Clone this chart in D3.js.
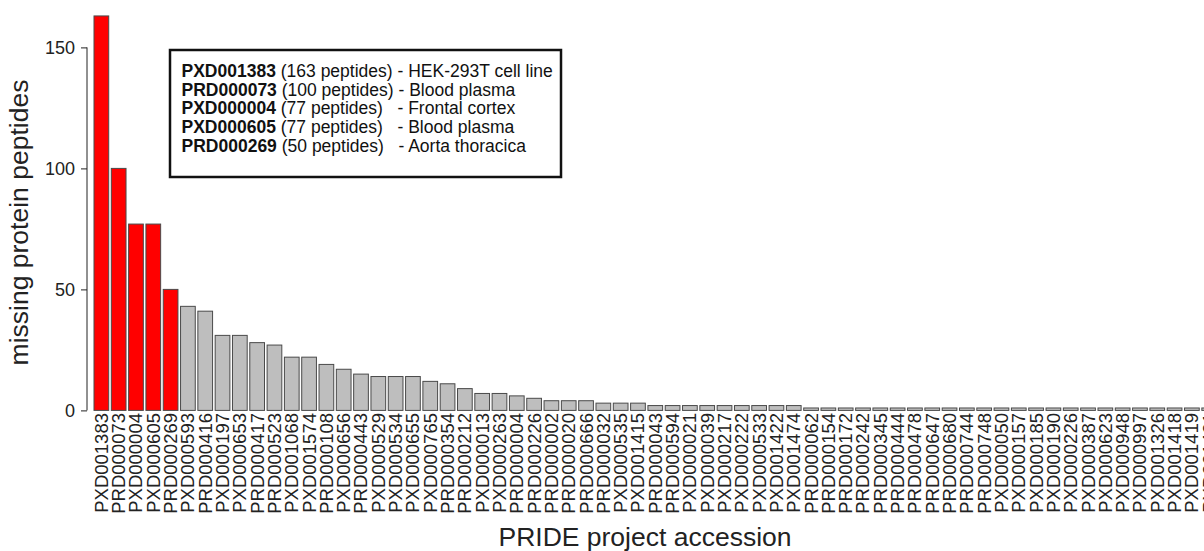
<!DOCTYPE html>
<html>
<head>
<meta charset="utf-8">
<script src="https://d3js.org/d3.v7.min.js"></script>
<style>
    body { margin: 0; background: #fff; }
    svg { display: block; font-family: "Liberation Sans", Arial, Helvetica, sans-serif; }
</style>
</head>
<body>
<div id="chart"></div>
<script>
    // PRIDE projects, sorted by number of missing protein peptides
    var accessions = [
        'PXD001383','PRD000073','PXD000004','PXD000605','PRD000269',
        'PXD000593','PRD000416','PXD000197','PXD000653','PRD000417',
        'PRD000523','PXD001068','PXD001574','PRD000108','PXD000656',
        'PRD000443','PXD000529','PXD000534','PXD000655','PXD000765',
        'PRD000354','PRD000212','PXD000013','PXD000263','PRD000004',
        'PRD000226','PRD000002','PRD000020','PRD000666','PRD000032',
        'PXD000535','PXD001415','PRD000043','PRD000594','PXD000021',
        'PXD000039','PXD000217','PXD000222','PXD000533','PXD001422',
        'PXD001474','PRD000062','PRD000154','PRD000172','PRD000242',
        'PRD000345','PRD000444','PRD000478','PRD000647','PRD000680',
        'PRD000744','PRD000748','PXD000050','PXD000157','PXD000185',
        'PXD000190','PXD000226','PXD000387','PXD000623','PXD000948',
        'PXD000997','PXD001326','PXD001418','PXD001419','PXD001421'
    ];
    var peptides = [
        163, 100, 77, 77, 50,
        43, 41, 31, 31, 28,
        27, 22, 22, 19, 17,
        15, 14, 14, 14, 12,
        11, 9, 7, 7, 6,
        5, 4, 4, 4, 3,
        3, 3, 2, 2, 2,
        2, 2, 2, 2, 2,
        2, 1, 1, 1, 1,
        1, 1, 1, 1, 1,
        1, 1, 1, 1, 1,
        1, 1, 1, 1, 1,
        1, 1, 1, 1, 1
    ];
    var yTicks = [0, 50, 100, 150];

    var legendIds = ['PXD001383', 'PRD000073', 'PXD000004', 'PXD000605', 'PRD000269'];
    var legendCounts = [' (163 peptides)', ' (100 peptides)', ' (77 peptides)', ' (77 peptides)', ' (50 peptides)'];
    var legendTissues = [' - HEK-293T cell line', ' - Blood plasma', '   - Frontal cortex', '   - Blood plasma', '   - Aorta thoracica'];

    var width = 1204, height = 551;
    var svg = d3.select('#chart').append('svg')
        .attr('width', width).attr('height', height);

    var data = accessions.map((a, i) => ({id: a, value: peptides[i]}));

    var step = 17.31;
    var x = d3.scaleBand()
        .domain(accessions)
        .range([92.7, 92.7 + step * accessions.length])
        .paddingInner(0.15)
        .paddingOuter(0.075);
    var y = d3.scaleLinear().domain([0, 150]).range([410.4, 47.4]);

    // bars
    svg.append('g').selectAll('rect').data(data).enter().append('rect')
        .attr('x', d => x(d.id))
        .attr('width', x.bandwidth())
        .attr('y', d => y(d.value))
        .attr('height', d => y(0) - y(d.value))
        .attr('fill', d => legendIds.indexOf(d.id) >= 0 ? '#ff0000' : '#bebebe')
        .attr('stroke', '#4a4a4a')
        .attr('stroke-width', 1);

    // y axis (R style: line only between first and last tick)
    var yAxis = svg.append('g')
        .attr('transform', 'translate(87,0)')
        .call(d3.axisLeft(y).tickValues(yTicks).tickSize(6).tickPadding(6));
    yAxis.select('.domain').remove();
    yAxis.append('line')
        .attr('x1', 0).attr('x2', 0)
        .attr('y1', y(yTicks[0])).attr('y2', y(yTicks[yTicks.length - 1]))
        .attr('stroke', '#222');
    yAxis.selectAll('.tick line').attr('stroke', '#222');
    yAxis.selectAll('.tick text')
        .attr('fill', '#222')
        .style('font-size', '18px')
        .style('font-family', '"Liberation Sans", Arial, sans-serif');

    // x tick labels, vertical
    svg.append('g').selectAll('text').data(accessions).enter().append('text')
        .attr('transform', d => `translate(${x(d) + x.bandwidth() / 2},413) rotate(-90)`)
        .attr('dy', '0.35em')
        .attr('text-anchor', 'end')
        .attr('fill', '#222')
        .style('font-size', '18.5px')
        .text(d => d);

    // axis titles
    svg.append('text')
        .attr('transform', 'translate(27.5,222.5) rotate(-90)')
        .attr('text-anchor', 'middle')
        .attr('fill', '#222')
        .style('font-size', '26.5px')
        .text('missing protein peptides');
    svg.append('text')
        .attr('x', 645).attr('y', 546)
        .attr('text-anchor', 'middle')
        .attr('fill', '#222')
        .style('font-size', '26.5px')
        .text('PRIDE project accession');

    // legend box
    svg.append('rect')
        .attr('x', 170).attr('y', 50)
        .attr('width', 391).attr('height', 127)
        .attr('fill', '#fff')
        .attr('stroke', '#111')
        .attr('stroke-width', 2.5);
    var lines = svg.append('g').selectAll('text').data(legendIds).enter().append('text')
        .attr('x', 181.5)
        .attr('y', (d, i) => 77 + i * 18.7)
        .attr('fill', '#111')
        .style('font-size', '17.5px')
        .style('white-space', 'pre');
    lines.append('tspan').style('font-weight', 'bold').text(d => d);
    lines.append('tspan').text((d, i) => legendCounts[i] + legendTissues[i]);
</script>
</body>
</html>
